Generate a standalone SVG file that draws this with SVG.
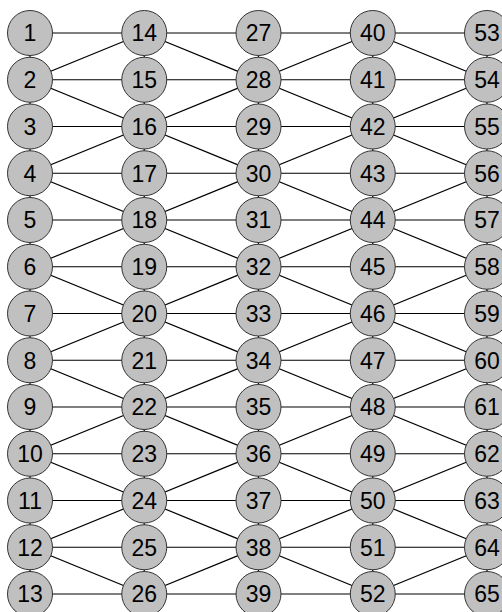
<svg xmlns="http://www.w3.org/2000/svg" width="502" height="612" viewBox="0 0 502 612">
<style>
.e{stroke:#000;stroke-width:1.2;fill:none}
.n circle{fill:#c0c0c0;stroke:#333;stroke-width:1}
.n text{font-family:"Liberation Sans",Arial,sans-serif;font-size:23px;fill:#000;text-anchor:middle}
</style>
<rect width="502" height="612" fill="#fff"/>
<g id="connectors" class="e">
<path d="M30,33H487M30,79.75H487M30,126.5H487M30,173.25H487M30,220H487M30,266.75H487M30,313.5H487M30,360.25H487M30,407H487M30,453.75H487M30,500.5H487M30,547.25H487M30,594H487"/>
<path d="M30,33V594M144.25,33V594M258.5,33V594M372.75,33V594M487,33V594"/>
<path d="M144.25,33L30,79.75L144.25,126.5L30,173.25L144.25,220L30,266.75L144.25,313.5L30,360.25L144.25,407L30,453.75L144.25,500.5L30,547.25L144.25,594"/>
<path d="M144.25,33L258.5,79.75L144.25,126.5L258.5,173.25L144.25,220L258.5,266.75L144.25,313.5L258.5,360.25L144.25,407L258.5,453.75L144.25,500.5L258.5,547.25L144.25,594"/>
<path d="M372.75,33L258.5,79.75L372.75,126.5L258.5,173.25L372.75,220L258.5,266.75L372.75,313.5L258.5,360.25L372.75,407L258.5,453.75L372.75,500.5L258.5,547.25L372.75,594"/>
<path d="M372.75,33L487,79.75L372.75,126.5L487,173.25L372.75,220L487,266.75L372.75,313.5L487,360.25L372.75,407L487,453.75L372.75,500.5L487,547.25L372.75,594"/>
</g>
<g class="n">
<g id="n1"><circle cx="30" cy="33" r="22.5"/><text x="30" y="41.3">1</text></g>
<g id="n2"><circle cx="30" cy="79.75" r="22.5"/><text x="30" y="88.05">2</text></g>
<g id="n3"><circle cx="30" cy="126.5" r="22.5"/><text x="30" y="134.8">3</text></g>
<g id="n4"><circle cx="30" cy="173.25" r="22.5"/><text x="30" y="181.55">4</text></g>
<g id="n5"><circle cx="30" cy="220" r="22.5"/><text x="30" y="228.3">5</text></g>
<g id="n6"><circle cx="30" cy="266.75" r="22.5"/><text x="30" y="275.05">6</text></g>
<g id="n7"><circle cx="30" cy="313.5" r="22.5"/><text x="30" y="321.8">7</text></g>
<g id="n8"><circle cx="30" cy="360.25" r="22.5"/><text x="30" y="368.55">8</text></g>
<g id="n9"><circle cx="30" cy="407" r="22.5"/><text x="30" y="415.3">9</text></g>
<g id="n10"><circle cx="30" cy="453.75" r="22.5"/><text x="30" y="462.05">10</text></g>
<g id="n11"><circle cx="30" cy="500.5" r="22.5"/><text x="30" y="508.8">11</text></g>
<g id="n12"><circle cx="30" cy="547.25" r="22.5"/><text x="30" y="555.55">12</text></g>
<g id="n13"><circle cx="30" cy="594" r="22.5"/><text x="30" y="602.3">13</text></g>
<g id="n14"><circle cx="144.25" cy="33" r="22.5"/><text x="144.25" y="41.3">14</text></g>
<g id="n15"><circle cx="144.25" cy="79.75" r="22.5"/><text x="144.25" y="88.05">15</text></g>
<g id="n16"><circle cx="144.25" cy="126.5" r="22.5"/><text x="144.25" y="134.8">16</text></g>
<g id="n17"><circle cx="144.25" cy="173.25" r="22.5"/><text x="144.25" y="181.55">17</text></g>
<g id="n18"><circle cx="144.25" cy="220" r="22.5"/><text x="144.25" y="228.3">18</text></g>
<g id="n19"><circle cx="144.25" cy="266.75" r="22.5"/><text x="144.25" y="275.05">19</text></g>
<g id="n20"><circle cx="144.25" cy="313.5" r="22.5"/><text x="144.25" y="321.8">20</text></g>
<g id="n21"><circle cx="144.25" cy="360.25" r="22.5"/><text x="144.25" y="368.55">21</text></g>
<g id="n22"><circle cx="144.25" cy="407" r="22.5"/><text x="144.25" y="415.3">22</text></g>
<g id="n23"><circle cx="144.25" cy="453.75" r="22.5"/><text x="144.25" y="462.05">23</text></g>
<g id="n24"><circle cx="144.25" cy="500.5" r="22.5"/><text x="144.25" y="508.8">24</text></g>
<g id="n25"><circle cx="144.25" cy="547.25" r="22.5"/><text x="144.25" y="555.55">25</text></g>
<g id="n26"><circle cx="144.25" cy="594" r="22.5"/><text x="144.25" y="602.3">26</text></g>
<g id="n27"><circle cx="258.5" cy="33" r="22.5"/><text x="258.5" y="41.3">27</text></g>
<g id="n28"><circle cx="258.5" cy="79.75" r="22.5"/><text x="258.5" y="88.05">28</text></g>
<g id="n29"><circle cx="258.5" cy="126.5" r="22.5"/><text x="258.5" y="134.8">29</text></g>
<g id="n30"><circle cx="258.5" cy="173.25" r="22.5"/><text x="258.5" y="181.55">30</text></g>
<g id="n31"><circle cx="258.5" cy="220" r="22.5"/><text x="258.5" y="228.3">31</text></g>
<g id="n32"><circle cx="258.5" cy="266.75" r="22.5"/><text x="258.5" y="275.05">32</text></g>
<g id="n33"><circle cx="258.5" cy="313.5" r="22.5"/><text x="258.5" y="321.8">33</text></g>
<g id="n34"><circle cx="258.5" cy="360.25" r="22.5"/><text x="258.5" y="368.55">34</text></g>
<g id="n35"><circle cx="258.5" cy="407" r="22.5"/><text x="258.5" y="415.3">35</text></g>
<g id="n36"><circle cx="258.5" cy="453.75" r="22.5"/><text x="258.5" y="462.05">36</text></g>
<g id="n37"><circle cx="258.5" cy="500.5" r="22.5"/><text x="258.5" y="508.8">37</text></g>
<g id="n38"><circle cx="258.5" cy="547.25" r="22.5"/><text x="258.5" y="555.55">38</text></g>
<g id="n39"><circle cx="258.5" cy="594" r="22.5"/><text x="258.5" y="602.3">39</text></g>
<g id="n40"><circle cx="372.75" cy="33" r="22.5"/><text x="372.75" y="41.3">40</text></g>
<g id="n41"><circle cx="372.75" cy="79.75" r="22.5"/><text x="372.75" y="88.05">41</text></g>
<g id="n42"><circle cx="372.75" cy="126.5" r="22.5"/><text x="372.75" y="134.8">42</text></g>
<g id="n43"><circle cx="372.75" cy="173.25" r="22.5"/><text x="372.75" y="181.55">43</text></g>
<g id="n44"><circle cx="372.75" cy="220" r="22.5"/><text x="372.75" y="228.3">44</text></g>
<g id="n45"><circle cx="372.75" cy="266.75" r="22.5"/><text x="372.75" y="275.05">45</text></g>
<g id="n46"><circle cx="372.75" cy="313.5" r="22.5"/><text x="372.75" y="321.8">46</text></g>
<g id="n47"><circle cx="372.75" cy="360.25" r="22.5"/><text x="372.75" y="368.55">47</text></g>
<g id="n48"><circle cx="372.75" cy="407" r="22.5"/><text x="372.75" y="415.3">48</text></g>
<g id="n49"><circle cx="372.75" cy="453.75" r="22.5"/><text x="372.75" y="462.05">49</text></g>
<g id="n50"><circle cx="372.75" cy="500.5" r="22.5"/><text x="372.75" y="508.8">50</text></g>
<g id="n51"><circle cx="372.75" cy="547.25" r="22.5"/><text x="372.75" y="555.55">51</text></g>
<g id="n52"><circle cx="372.75" cy="594" r="22.5"/><text x="372.75" y="602.3">52</text></g>
<g id="n53"><circle cx="487" cy="33" r="22.5"/><text x="487" y="41.3">53</text></g>
<g id="n54"><circle cx="487" cy="79.75" r="22.5"/><text x="487" y="88.05">54</text></g>
<g id="n55"><circle cx="487" cy="126.5" r="22.5"/><text x="487" y="134.8">55</text></g>
<g id="n56"><circle cx="487" cy="173.25" r="22.5"/><text x="487" y="181.55">56</text></g>
<g id="n57"><circle cx="487" cy="220" r="22.5"/><text x="487" y="228.3">57</text></g>
<g id="n58"><circle cx="487" cy="266.75" r="22.5"/><text x="487" y="275.05">58</text></g>
<g id="n59"><circle cx="487" cy="313.5" r="22.5"/><text x="487" y="321.8">59</text></g>
<g id="n60"><circle cx="487" cy="360.25" r="22.5"/><text x="487" y="368.55">60</text></g>
<g id="n61"><circle cx="487" cy="407" r="22.5"/><text x="487" y="415.3">61</text></g>
<g id="n62"><circle cx="487" cy="453.75" r="22.5"/><text x="487" y="462.05">62</text></g>
<g id="n63"><circle cx="487" cy="500.5" r="22.5"/><text x="487" y="508.8">63</text></g>
<g id="n64"><circle cx="487" cy="547.25" r="22.5"/><text x="487" y="555.55">64</text></g>
<g id="n65"><circle cx="487" cy="594" r="22.5"/><text x="487" y="602.3">65</text></g>
</g>
</svg>
